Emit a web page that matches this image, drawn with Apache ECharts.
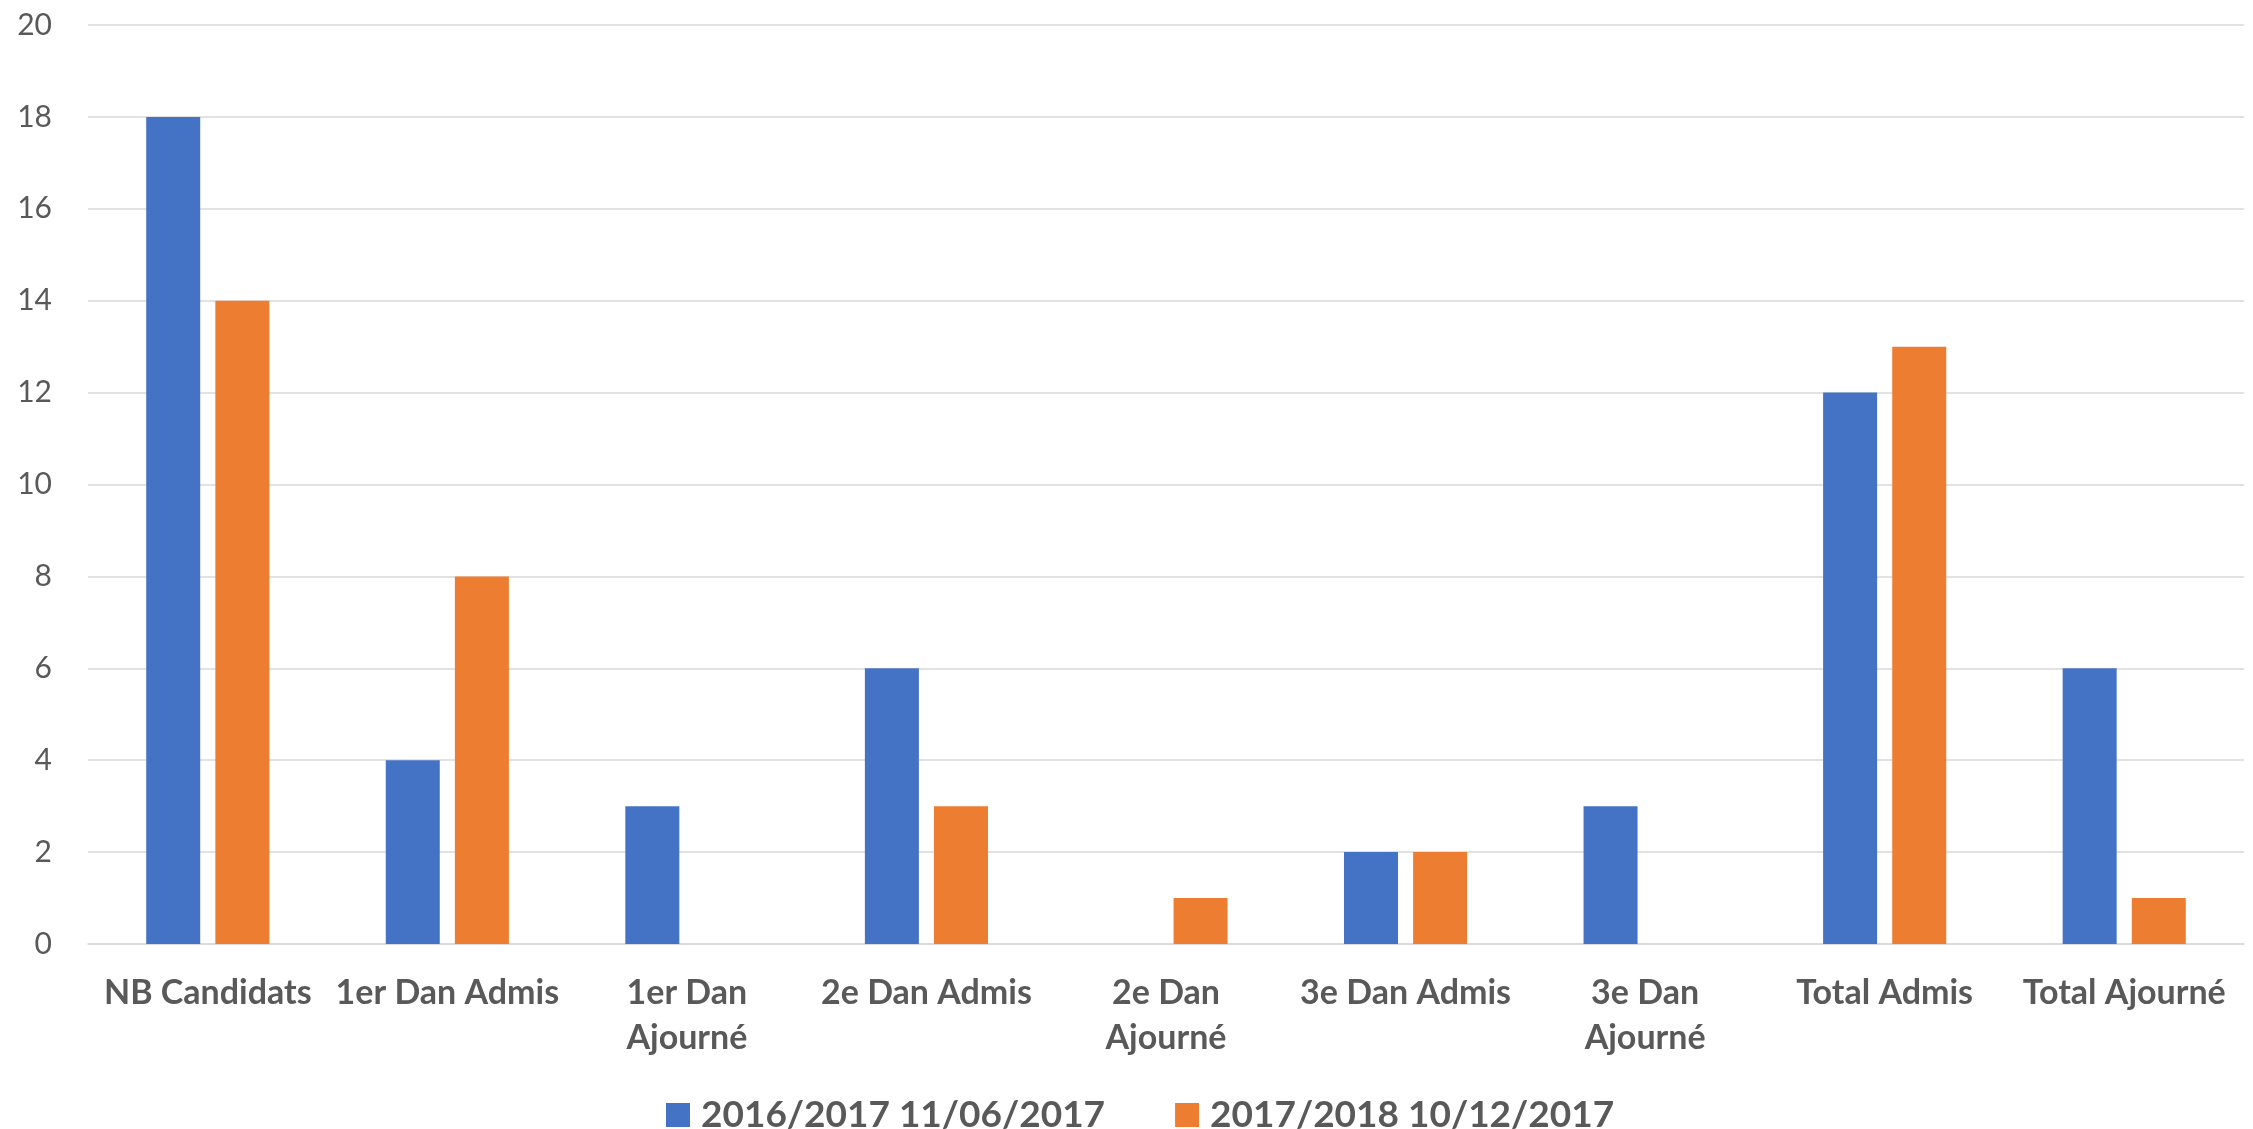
<!DOCTYPE html>
<html>
<head>
<meta charset="utf-8">
<script src="https://cdn.jsdelivr.net/npm/echarts@6/dist/echarts.min.js"></script>
<style>
html,body{margin:0;padding:0;background:#fff;}
#chart{width:2253px;height:1129px;}
</style>
</head>
<body>
<div id="chart"></div>
<script>
const categories = ['NB Candidats','1er Dan Admis','1er Dan Ajourné','2e Dan Admis','2e Dan Ajourné','3e Dan Admis','3e Dan Ajourné','Total Admis','Total Ajourné'];
const seriesNames = ['2016/2017 11/06/2017','2017/2018 10/12/2017'];
const values2016 = [18,4,3,6,0,2,3,12,6];
const values2018 = [14,8,0,3,1,2,0,13,1];
const yTicks = {min:0, max:20, interval:2};

const chart = echarts.init(document.getElementById('chart'));
const textColor = '#595959';
const fontFam = 'Lato, "Open Sans", sans-serif';
chart.setOption({
  animation:false,
  backgroundColor:'#ffffff',
  grid:{left:88, right:9, top:25, bottom:185, containLabel:false},
  legend:{
    data:seriesNames,
    left:661, top:1090,
    icon:'rect', itemWidth:24, itemHeight:24, itemGap:70,
    textStyle:{color:textColor, fontFamily:fontFam, fontWeight:'bold', fontSize:37, lineHeight:40, padding:[0,0,0,6]}
  },
  xAxis:{
    type:'category',
    data:categories,
    axisLine:{show:true, lineStyle:{color:'#d9d9d9', width:1.5}},
    axisTick:{show:false},
    axisLabel:{
      interval:0, margin:27, color:textColor, fontFamily:fontFam, fontWeight:'bold', fontSize:34, lineHeight:45,
      formatter:function(v){ if(v.length>=14){ const i=v.lastIndexOf(' '); return v.slice(0,i)+'\n'+v.slice(i+1);} return v; }
    }
  },
  yAxis:{
    type:'value', min:yTicks.min, max:yTicks.max, interval:yTicks.interval,
    axisLine:{show:false}, axisTick:{show:false},
    axisLabel:{margin:36, color:textColor, fontFamily:fontFam, fontSize:30},
    splitLine:{lineStyle:{color:'#d9d9d9', width:1.5}}
  },
  series:[
    {name:seriesNames[0], type:'bar', data:values2016, barWidth:54, barGap:'28%', itemStyle:{color:'#4472C4'}},
    {name:seriesNames[1], type:'bar', data:values2018, barWidth:54, barGap:'28%', itemStyle:{color:'#ED7D31'}}
  ]
});
</script>
</body>
</html>
